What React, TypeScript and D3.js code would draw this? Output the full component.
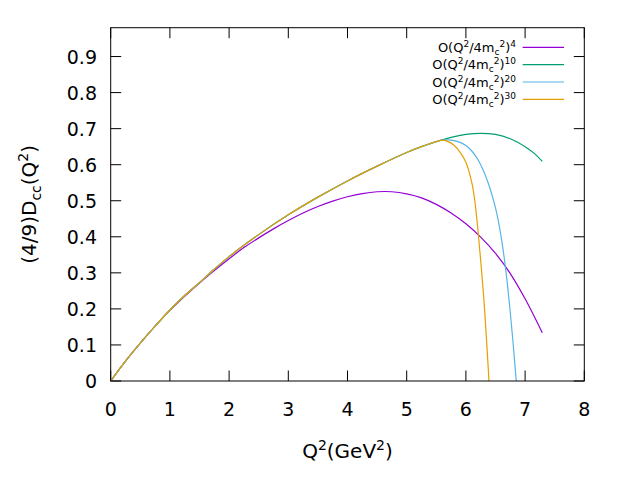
import React from "react";
import * as d3 from "d3";

// ---- data ----
const commonX = [0, 0.25, 0.5, 0.75, 1, 1.25, 1.5, 1.75, 2, 2.5, 3, 3.5, 4, 4.5, 5, 5.25, 5.5];
const commonY = [0, 0.055, 0.105, 0.152, 0.197, 0.237, 0.273, 0.31, 0.345, 0.406, 0.461, 0.51, 0.555, 0.596, 0.634, 0.65, 0.664];

const order4X = [0, 0.25, 0.5, 0.75, 1, 1.5, 2, 2.25, 2.5, 2.75, 3, 3.25, 3.5, 3.75, 4, 4.25, 4.5, 4.75, 5, 5.25, 5.5, 5.75, 6, 6.25, 6.5, 6.75, 7, 7.29];
const order4Y = [0, 0.055, 0.105, 0.152, 0.196, 0.272, 0.339, 0.37, 0.397, 0.422, 0.445, 0.466, 0.484, 0.499, 0.511, 0.52, 0.525, 0.525, 0.519, 0.508, 0.49, 0.466, 0.436, 0.399, 0.354, 0.298, 0.228, 0.134];

const order10TailX = [5.75, 6.0, 6.25, 6.5, 6.75, 7.0, 7.15, 7.29];
const order10TailY = [0.676, 0.684, 0.687, 0.684, 0.672, 0.65, 0.632, 0.609];

const order20TailX = [5.6, 5.7, 5.8, 5.9, 6.0, 6.1, 6.2, 6.3, 6.4, 6.5, 6.55, 6.6, 6.65, 6.7, 6.75, 6.8, 6.85];
const order20TailY = [0.668, 0.669, 0.667, 0.662, 0.653, 0.638, 0.615, 0.582, 0.538, 0.48, 0.442, 0.395, 0.338, 0.27, 0.19, 0.1, 0];

const order30TailX = [5.6, 5.7, 5.8, 5.9, 6.0, 6.1, 6.15, 6.2, 6.25, 6.3, 6.35, 6.39];
const order30TailY = [0.668, 0.664, 0.654, 0.635, 0.607, 0.55, 0.5, 0.425, 0.334, 0.235, 0.11, 0];

const xTicks = [0, 1, 2, 3, 4, 5, 6, 7, 8];
const yTicks = [0, 0.1, 0.2, 0.3, 0.4, 0.5, 0.6, 0.7, 0.8, 0.9];

const seriesOrders = ["4", "10", "20", "30"];
const seriesColors = ["#9400d3", "#009e73", "#56b4e9", "#e69f00"];

// ---- layout ----
const W = 623;
const H = 498;
const left = 110.7;
const right = 584.3;
const top = 27.7;
const bottom = 381;
const tickLen = 10.5;
const FONT = "'DejaVu Sans', Verdana, sans-serif";

type Pt = [number, number];
const zip = (xs: number[], ys: number[]): Pt[] => xs.map((x, i) => [x, ys[i]]);

export default function App() {
  const x = d3.scaleLinear().domain([0, 8]).range([left, right]);
  const y = d3.scaleLinear().domain([0, 0.98]).range([bottom, top]);

  const common = zip(commonX, commonY);
  const series: Pt[][] = [
    zip(order4X, order4Y),
    [...common, ...zip(order10TailX, order10TailY)],
    [...common, ...zip(order20TailX, order20TailY)],
    [...common, ...zip(order30TailX, order30TailY)],
  ];

  const line = d3
    .line<Pt>()
    .x((d) => x(d[0]))
    .y((d) => y(d[1]))
    .curve(d3.curveCatmullRom.alpha(0.5));

  const legendX = 516;
  const legendY0 = 47.3;
  const legendDy = 17.35;

  return (
    <svg width={W} height={H} style={{ position: "absolute", left: 0, top: 0, background: "#fff" }}>
      <rect x={0} y={0} width={W} height={H} fill="#fff" />
      <defs>
        <clipPath id="plotclip">
          <rect x={left} y={top} width={right - left} height={bottom - top} />
        </clipPath>
      </defs>

      {/* ticks */}
      {xTicks.map((t) => (
        <g key={"xt" + t}>
          <line x1={x(t)} x2={x(t)} y1={bottom} y2={bottom - tickLen} stroke="#000" strokeWidth={1} />
          <line x1={x(t)} x2={x(t)} y1={top} y2={top + tickLen} stroke="#000" strokeWidth={1} />
          <text x={x(t)} y={409} textAnchor="middle" dominantBaseline="central" fontFamily={FONT} fontSize={19}>
            {t}
          </text>
        </g>
      ))}
      {yTicks.map((t) => (
        <g key={"yt" + t}>
          <line x1={left} x2={left + tickLen} y1={y(t)} y2={y(t)} stroke="#000" strokeWidth={1} />
          <line x1={right} x2={right - tickLen} y1={y(t)} y2={y(t)} stroke="#000" strokeWidth={1} />
          <text x={97} y={y(t)} textAnchor="end" dominantBaseline="central" fontFamily={FONT} fontSize={19}>
            {t === 0 ? "0" : t.toFixed(1)}
          </text>
        </g>
      ))}

      {/* curves */}
      <g clipPath="url(#plotclip)">
        {series.map((s, i) => (
          <path key={"s" + i} d={line(s) || ""} fill="none" stroke={seriesColors[i]} strokeWidth={1.2} />
        ))}
      </g>

      {/* frame */}
      <rect x={left} y={top} width={right - left} height={bottom - top} fill="none" stroke="#000" strokeWidth={1} />

      {/* legend */}
      {seriesOrders.map((o, i) => {
        const ly = legendY0 + i * legendDy;
        return (
          <g key={"lg" + i}>
            <text x={legendX} y={ly + 4.5} textAnchor="end" fontFamily={FONT} fontSize={13}>
              <tspan>O(Q</tspan>
              <tspan fontSize={9} dy={-5}>2</tspan>
              <tspan dy={5}>/4m</tspan>
              <tspan fontSize={9} dy={3}>c</tspan>
              <tspan fontSize={9} dy={-8}>2</tspan>
              <tspan dy={5}>)</tspan>
              <tspan fontSize={9} dy={-5}>{o}</tspan>
            </text>
            <line x1={522.7} x2={564} y1={ly} y2={ly} stroke={seriesColors[i]} strokeWidth={1.2} />
          </g>
        );
      })}

      {/* axis labels */}
      <text x={(left + right) / 2} y={458} textAnchor="middle" fontFamily={FONT} fontSize={20}>
        <tspan>Q</tspan>
        <tspan fontSize={14} dy={-8}>2</tspan>
        <tspan dy={8}>(GeV</tspan>
        <tspan fontSize={14} dy={-8}>2</tspan>
        <tspan dy={8}>)</tspan>
      </text>
      <text
        transform={`translate(36, ${(top + bottom) / 2}) rotate(-90)`}
        textAnchor="middle"
        fontFamily={FONT}
        fontSize={20}
      >
        <tspan>(4/9)D</tspan>
        <tspan fontSize={14} dy={5}>cc</tspan>
        <tspan dy={-5}>(Q</tspan>
        <tspan fontSize={14} dy={-8}>2</tspan>
        <tspan dy={8}>)</tspan>
      </text>
    </svg>
  );
}
